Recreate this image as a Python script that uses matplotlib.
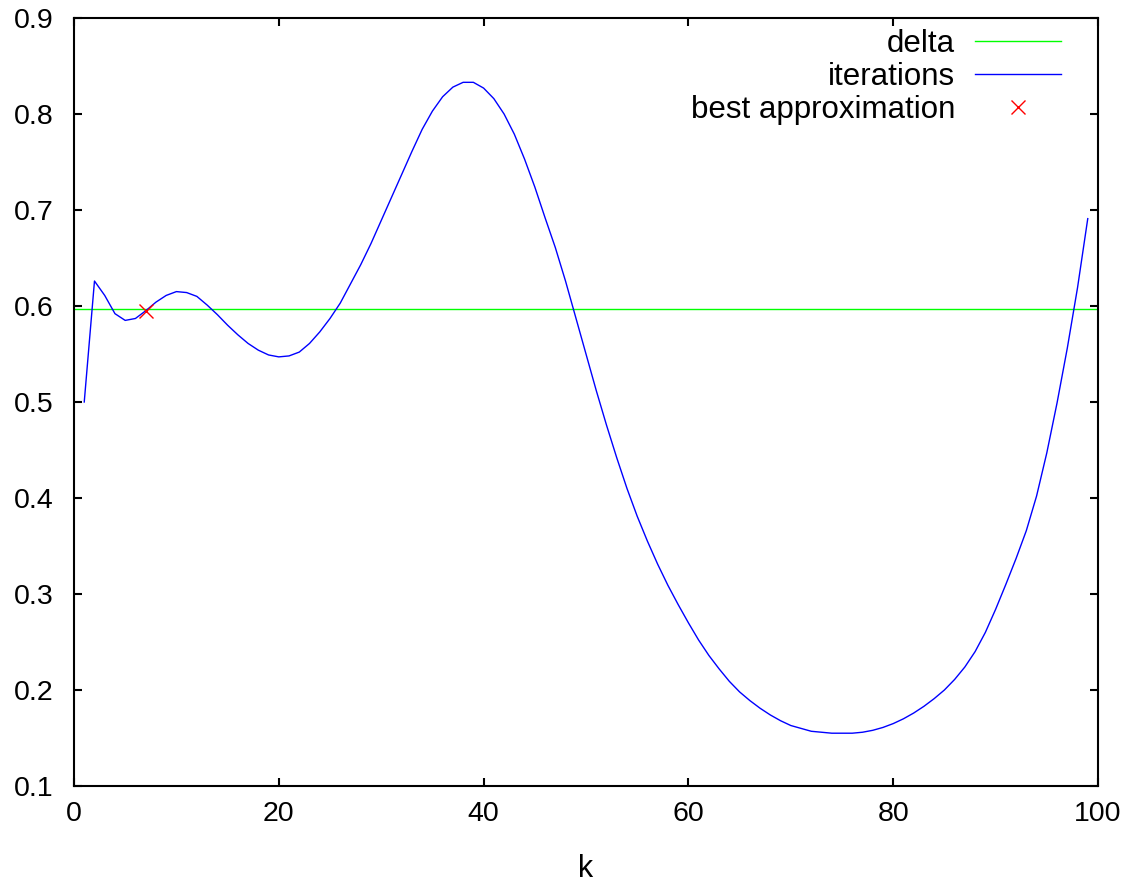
import matplotlib
matplotlib.use("Agg")
import matplotlib.pyplot as plt

plt.rcParams["font.family"] = ["Liberation Sans", "DejaVu Sans"]

# iteration values, k = 1..99
k = list(range(1, 100))
iterations = [
    0.500, 0.626, 0.611, 0.592, 0.585, 0.587, 0.595, 0.604, 0.611, 0.615,
    0.614, 0.610, 0.601, 0.591, 0.580, 0.570, 0.561, 0.554, 0.549, 0.547,
    0.548, 0.552, 0.561, 0.573, 0.587, 0.603, 0.623, 0.643, 0.665, 0.689,
    0.713, 0.737, 0.761, 0.784, 0.803, 0.818, 0.828, 0.833, 0.833, 0.827,
    0.816, 0.800, 0.779, 0.753, 0.724, 0.692, 0.661, 0.626, 0.588, 0.550,
    0.512, 0.476, 0.442, 0.410, 0.381, 0.355, 0.331, 0.309, 0.289, 0.270,
    0.252, 0.236, 0.222, 0.209, 0.198, 0.189, 0.181, 0.174, 0.168, 0.163,
    0.160, 0.157, 0.156, 0.155, 0.155, 0.155, 0.156, 0.158, 0.161, 0.165,
    0.170, 0.176, 0.183, 0.191, 0.200, 0.211, 0.224, 0.240, 0.260, 0.284,
    0.310, 0.337, 0.366, 0.402, 0.447, 0.499, 0.556, 0.619, 0.691,
]
delta = 0.5966
best_k = 7
best_val = 0.5946

xticks = [0, 20, 40, 60, 80, 100]
yticks = [0.1, 0.2, 0.3, 0.4, 0.5, 0.6, 0.7, 0.8, 0.9]

W, H = 1137, 884
fig = plt.figure(figsize=(W / 100, H / 100), dpi=100)
ax = fig.add_axes([74 / W, (H - 786) / H, (1098 - 74) / W, (786 - 18) / H])

ax.axhline(delta, color="#00ff00", lw=1.0, label="delta")
ax.plot(k, iterations, color="#0000ff", lw=1.0, label="iterations")
ax.plot([best_k], [best_val], ls="none", marker="x", color="#ff0000",
        ms=10, mew=1.0, label="best approximation")

ax.set_xlim(0, 100)
ax.set_ylim(0.1, 0.9)
ax.set_xticks(xticks)
ax.set_yticks(yticks)
ax.set_xticklabels([str(v) for v in xticks])
ax.set_yticklabels([f"{v:.1f}" for v in yticks])
ax.tick_params(direction="in", length=5.5, width=1.5, labelsize=20.5,
               top=True, right=True)
ax.tick_params(axis="y", pad=15)
ax.tick_params(axis="x", pad=11)
for s in ax.spines.values():
    s.set_linewidth(1.5)
ax.set_xlabel("k", fontsize=22, labelpad=19)

ax.legend(loc="upper right", bbox_to_anchor=(1061 / W, 1 - 29 / H),
          bbox_transform=fig.transFigure, frameon=False, markerfirst=False,
          fontsize=22.5, borderpad=0, labelspacing=0.1, handlelength=2.75,
          handletextpad=0.63, borderaxespad=0)

fig.savefig("out.png", dpi=100)
